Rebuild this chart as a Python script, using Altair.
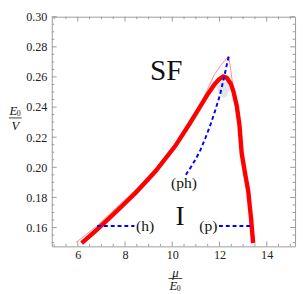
import altair as alt
import pandas as pd

# ---- data ----
thick_mu = [6.165, 6.825, 7.649, 8.474, 9.299, 10.124, 10.742, 11.155, 11.485, 11.773,
            11.979, 12.157, 12.309, 12.487, 12.598, 12.734, 12.845, 12.940, 13.072, 13.216,
            13.340, 13.423]
thick_e = [0.1497, 0.1588, 0.1709, 0.1834, 0.1975, 0.2141, 0.2291, 0.2397, 0.2481, 0.2547,
           0.2584, 0.2603, 0.2594, 0.2552, 0.2500, 0.2406, 0.2281, 0.2094, 0.1969, 0.1844,
           0.1656, 0.1497]

thin_mu = [5.918, 6.825, 7.649, 8.474, 9.299, 10.124, 10.742, 11.155, 11.443, 11.773,
           12.062, 12.392, 13.505]
thin_e = [0.1500, 0.1613, 0.1734, 0.1856, 0.1991, 0.2153, 0.2300, 0.2409, 0.2500, 0.2613,
          0.2678, 0.2739, 0.1494]

ph_mu = [10.577, 10.784, 10.990, 11.196, 11.402, 11.608, 11.814, 12.021, 12.206, 12.392]
ph_e = [0.1950, 0.2000, 0.2053, 0.2116, 0.2194, 0.2278, 0.2375, 0.2481, 0.2606, 0.2739]

h_mu = [6.82, 8.40]
h_e = [0.161, 0.161]
p_mu = [11.98, 13.35]
p_e = [0.161, 0.161]

# faint shaded patch under the peak
shade_mu = [11.85, 12.0, 12.15, 12.3, 12.45]
shade_top = [0.2535, 0.2565, 0.2575, 0.2565, 0.2520]
shade_bot = [0.2535, 0.2490, 0.2460, 0.2470, 0.2520]

label_text = ["SF", "I", "(h)", "(p)", "(ph)"]
label_mu = [9.75, 10.33, 8.85, 11.53, 10.50]
label_e = [0.2638, 0.1666, 0.1606, 0.1606, 0.1897]
label_size = [30, 28, 16, 16, 16]

x_major = [6, 8, 10, 12, 14]
x_minor = [v / 2 for v in range(10, 31) if (v / 2) not in x_major]
y_major = [0.16, 0.18, 0.20, 0.22, 0.24, 0.26, 0.28, 0.30]
y_minor = [round(0.15 + 0.005 * i, 3) for i in range(0, 31)]
y_minor = [v for v in y_minor if v not in y_major]

# ---- layout ----
W, H = 250, 236
XD = [4.9, 15.2]
YD = [0.1475, 0.30]
FONT = "Liberation Serif"
FRAME = "#9a9a9a"


def series(mu, e):
    return pd.DataFrame({"mu": mu, "e": e, "i": list(range(len(mu)))})


xs = alt.X("mu:Q", scale=alt.Scale(domain=XD, nice=False, zero=False),
           axis=alt.Axis(values=x_major, format="d", ticks=False, domain=False, grid=False,
                         labelFont=FONT, labelFontSize=12.5, labelColor="#222",
                         labelOverlap=False, labelPadding=3, title=None))
ys = alt.Y("e:Q", scale=alt.Scale(domain=YD, nice=False, zero=False),
           axis=alt.Axis(values=y_major, format=".2f", ticks=False, domain=False, grid=False,
                         labelFont=FONT, labelFontSize=12.5, labelColor="#222",
                         labelOverlap=False, labelPadding=5, title=None))

shade = alt.Chart(pd.DataFrame({"mu": shade_mu, "e": shade_top, "bot": shade_bot})).mark_area(
    color="#dbe3ea", opacity=0.9).encode(x=xs, y=ys, y2="bot:Q")
thin = alt.Chart(series(thin_mu, thin_e)).mark_line(
    color="#ff3030", strokeWidth=1, opacity=0.55).encode(x=xs, y=ys, order="i:Q")
thick = alt.Chart(series(thick_mu, thick_e)).mark_line(
    color="#ff0000", strokeWidth=4.5).encode(x=xs, y=ys, order="i:Q")
dash = dict(color="#0000ff", strokeWidth=2, strokeDash=[4, 3])
ph = alt.Chart(series(ph_mu, ph_e)).mark_line(**dash).encode(x=xs, y=ys, order="i:Q")
hl = alt.Chart(series(h_mu, h_e)).mark_line(**dash).encode(x=xs, y=ys, order="i:Q")
pl = alt.Chart(series(p_mu, p_e)).mark_line(**dash).encode(x=xs, y=ys, order="i:Q")

labels = alt.Chart(pd.DataFrame({"t": label_text, "mu": label_mu, "e": label_e,
                                 "s": label_size})).mark_text(
    font=FONT, color="#111", baseline="middle", align="center").encode(
    x=xs, y=ys, text="t:N",
    size=alt.Size("s:Q", scale=None, legend=None))

# inward frame ticks
xt_maj_df = pd.DataFrame({"mu": x_major})
xt_min_df = pd.DataFrame({"mu": x_minor})
yt_maj_df = pd.DataFrame({"e": y_major})
yt_min_df = pd.DataFrame({"e": y_minor})
tick_style = dict(color=FRAME, strokeWidth=1)


def xtick(df, y0, y1):
    return alt.Chart(df).mark_rule(**tick_style).encode(
        x=xs, y=alt.value(y0), y2=alt.YValue(y1))


def ytick(df, x0, x1):
    return alt.Chart(df).mark_rule(**tick_style).encode(
        y=ys, x=alt.value(x0), x2=alt.XValue(x1))


ticks = [xtick(xt_min_df, H, H - 2.5), xtick(xt_maj_df, H, H - 5),
         xtick(xt_min_df, 0, 2.5), xtick(xt_maj_df, 0, 5),
         ytick(yt_min_df, 0, 2.5), ytick(yt_maj_df, 0, 5),
         ytick(yt_min_df, W, W - 2.5), ytick(yt_maj_df, W, W - 5)]


# axis titles drawn as fractions
def txt(s, x, y, size=13, italic=True):
    return alt.Chart(pd.DataFrame({"a": [0]})).mark_text(
        font=FONT, fontSize=size, fontStyle="italic" if italic else "normal",
        color="#111", baseline="middle", align="center").encode(
        x=alt.value(x), y=alt.value(y), text=alt.value(s))


def bar(x1, x2, y):
    return alt.Chart(pd.DataFrame({"a": [0]})).mark_rule(color="#111", strokeWidth=0.8).encode(
        x=alt.value(x1), x2=alt.XValue(x2), y=alt.value(y))


ytitle = [txt("E", -39.5, 96.5), txt("0", -34, 100, size=8, italic=False),
          bar(-44, -31, 104), txt("V", -37.5, 112.5)]
xtitle = [txt("μ", 127, 263.5), bar(120, 134, 269),
          txt("E", 125, 276.5), txt("0", 130.5, 280, size=8, italic=False)]

chart = alt.layer(
    shade, thin, thick, ph, hl, pl, labels, *ticks, *ytitle, *xtitle
).properties(
    width=W, height=H,
    autosize=alt.AutoSizeParams(type="none"),
    padding={"left": 45, "top": 5, "right": 2, "bottom": 45},
).configure_view(stroke=FRAME, strokeWidth=1).configure_axis(
    labelFont=FONT, labelFontSize=12.5, labelColor="#222", ticks=False, domain=False,
    grid=False, labelOverlap=False)

chart.save("out.html", embed_options={"renderer": "svg", "actions": False})
